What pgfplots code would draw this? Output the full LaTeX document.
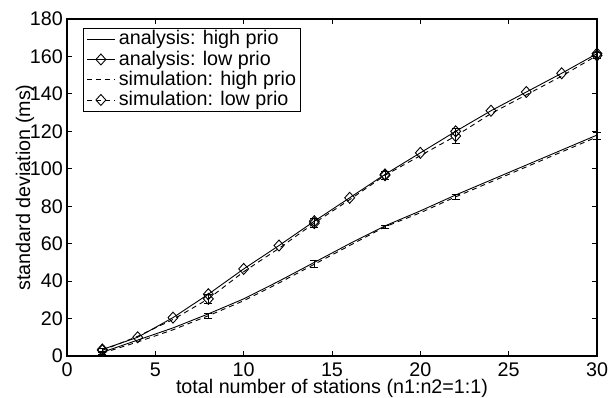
\documentclass[border=0pt]{standalone}
\usepackage{fontspec}
\setmainfont{Liberation Sans}
\usepackage{pgfplots}
\pgfplotsset{compat=1.18}
\newcommand{\chartfont}{\fontsize{19.8}{23}\selectfont}
\begin{document}
\chartfont
\begin{tikzpicture}
\begin{axis}[name=ax, scale only axis, width=530bp, height=337bp,
  xmin=0, xmax=30, ymin=0, ymax=180,
  xtick={0,5,...,30}, ytick={0,20,...,180},
  tick align=inside, tick pos=both, major tick length=5bp,
  axis line style={line width=1.2bp},
  every tick/.style={black, line width=0.8bp},
  /pgf/number format/assume math mode=true,
  tick label style={font=\chartfont},
  xticklabel style={anchor=base, yshift=-20.5bp, inner sep=0pt},
  yticklabel style={anchor=east, inner sep=0pt, xshift=-4bp},
  xlabel={total number of stations (n1:n2=1:1)},
  ylabel={standard deviation (ms)},
  label style={font=\chartfont},
  xlabel style={at={(axis description cs:0.5,-0.1113)}, anchor=base, inner sep=0pt, outer sep=0pt},
  ylabel style={at={(axis description cs:-0.0698,0.5)}, anchor=base, inner sep=0pt, outer sep=0pt},
  legend style={at={(axis description cs:0.031,0.973)}, anchor=north west,
    draw=black, line width=1bp, font=\chartfont, inner xsep=3bp, inner ysep=1bp, outer sep=0pt,
    row sep=0bp, nodes={inner sep=1.5bp}},
  legend cell align=left,
  legend image code/.code={\draw[mark repeat=2,mark phase=2] plot coordinates {(0bp,0bp)(14bp,0bp)(28bp,0bp)};},
  clip=false,
  every axis plot/.append style={line width=0.9bp},
  mark size=5.5bp,
]
\addlegendimage{black, solid, line width=0.9bp}
\addlegendentry{\hspace{2bp}analysis: high prio}
\addlegendimage{black, solid, line width=0.9bp, mark=diamond, mark size=5.5bp, mark options={xscale=1.2}}
\addlegendentry{\hspace{2bp}analysis: low prio}
\addlegendimage{black, dash pattern=on 5bp off 4bp, line width=0.9bp}
\addlegendentry{\hspace{2bp}simulation: high prio}
\addlegendimage{black, dash pattern=on 5bp off 4bp, line width=0.9bp, mark=diamond, mark size=5.5bp, mark options={solid, xscale=1.2}}
\addlegendentry{\hspace{2bp}simulation: low prio}

% analysis high prio
\addplot[forget plot, black, solid, mark=none] coordinates {
(2,2) (4,8.5) (6,15) (8,22.5) (10,30.5) (12,40) (14,50) (16,60) (18,69.5) (20,77.5) (22,86) (24,94) (26,102) (28,110) (30,118)};
% analysis low prio
\addplot[forget plot, black, solid, mark=diamond, mark options={solid, xscale=1.2}] coordinates {
(2,3.5) (4,10) (6,20.5) (8,33) (10,46.5) (12,59) (14,72) (16,84.5) (18,97) (20,108.5) (22,120) (24,131) (26,141) (28,151) (30,161.5)};
% simulation high prio (line)
\addplot[forget plot, black, dash pattern=on 5bp off 4bp, mark=none] coordinates {
(2,1.5) (4,7.5) (6,14) (8,21.5) (10,29.5) (12,39) (14,49) (16,59) (18,69) (20,76.5) (22,85) (24,93) (26,101) (28,109) (30,117)};
% simulation high prio error bars
\addplot[forget plot, draw=none, mark=none,
  error bars/.cd, y dir=both, y explicit,
  error bar style={draw=black, solid, line width=0.8bp},
  error mark options={rotate=90, mark size=4bp, line width=0.8bp, solid, draw=black}]
  table[x=x, y=y, y error=e] {
x y e
2 1.5 0.8
8 21.5 1.2
14 49 1.8
18 69 1.0
22 85 1.5
30 117.5 1.8
};
% simulation low prio (line)
\addplot[forget plot, black, dash pattern=on 5bp off 4bp, mark=none] coordinates {
(2,3) (4,10.5) (6,19.5) (8,30.5) (10,45) (12,57.5) (14,71) (16,83.5) (18,96.5) (20,107) (22,117.5) (24,129.5) (26,139.5) (28,149.5) (30,160.5)};
% simulation low prio markers with error bars
\addplot[forget plot, black, only marks, mark=diamond, mark options={solid, xscale=1.2},
  error bars/.cd, y dir=both, y explicit,
  error bar style={solid, line width=0.8bp},
  error mark options={rotate=90, mark size=4bp, line width=0.8bp, solid}]
  table[x=x, y=y, y error=e] {
x y e
2 3 1.0
8 30.5 2.5
14 71 2.5
18 96.5 2.0
22 117.5 4.0
30 160.5 1.5
};
\end{axis}
\path (ax.south west) ++(-67bp,-40bp) coordinate (bl);
\path (ax.north east) ++(18bp,19bp) coordinate (tr);
\path (bl) rectangle (tr);
\end{tikzpicture}
\end{document}
